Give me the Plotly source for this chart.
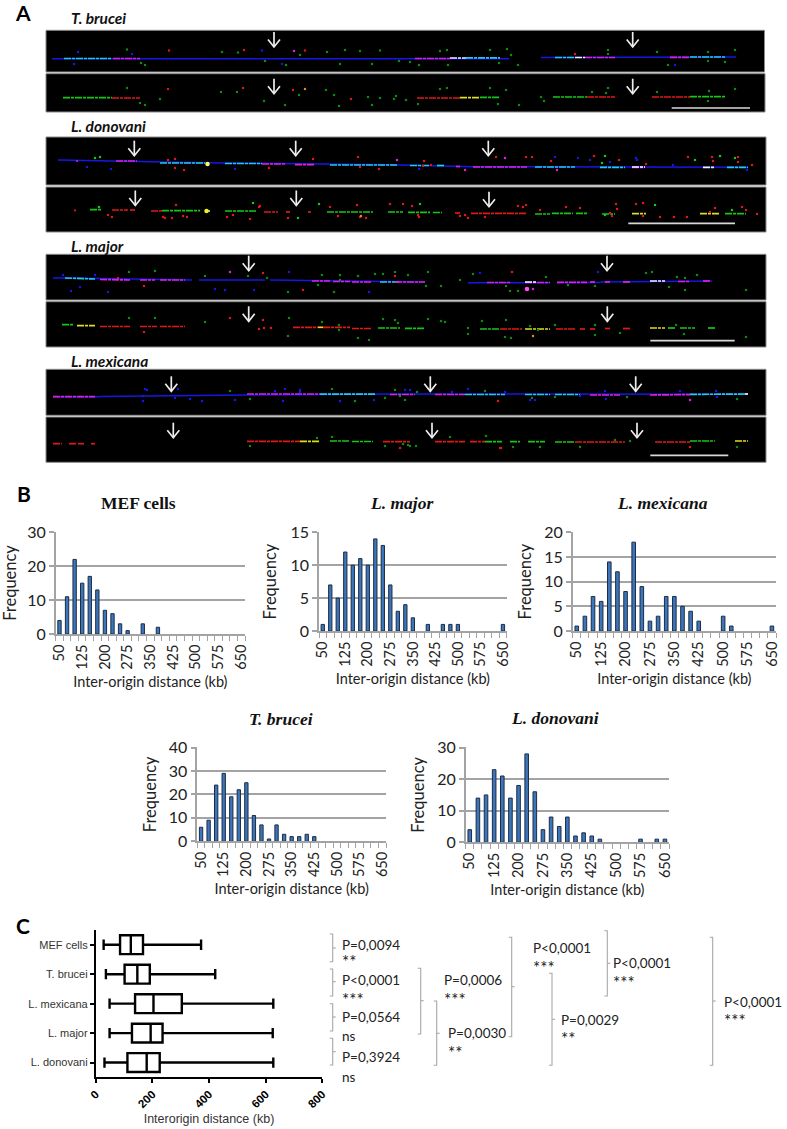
import plotly.graph_objects as go

W, H = 787, 1129

# ---------- Panel B data ----------
BINS = list(range(50, 651, 25))
BIN_TICKS = BINS[::3]

def fill(d):
    return [d.get(b, 0) for b in BINS]

MEF = fill({50:4,75:11,100:22,125:15,150:17,175:13,200:7,225:6,250:3,275:1,325:3,375:2})
MAJOR = fill({50:1,75:7,100:5,125:12,150:10,175:11,200:10,225:14,250:13,275:7,300:3,325:4,350:2,400:1,450:1,475:1,500:1,650:1})
MEXICANA = fill({50:1,75:3,100:7,125:6,150:14,175:12,200:8,225:18,250:9,275:2,300:3,325:7,350:7,375:5,400:4,425:2,500:3,525:1,650:1})
BRUCEI = fill({50:6,75:9,100:24,125:29,150:19,175:22,200:25,225:11,250:7,275:1,300:7,325:3,350:2,375:2,400:3,425:2})
DONOVANI = fill({50:4,75:14,100:15,125:23,150:21,175:14,200:18,225:28,250:16,275:4,300:8,325:5,350:8,375:2,400:3,425:2,450:1,575:1,625:1,650:1})

HISTS = [
    ("MEF cells", False, MEF, 30, 10, (55.7, 245), (532, 634), 138, 503, 7),
    ("L. major", True, MAJOR, 15, 5, (319, 506.7), (532, 631), 401, 503, 10),
    ("L. mexicana", True, MEXICANA, 20, 5, (572.7, 776), (532, 631), 662, 503, 8),
    ("T. brucei", True, BRUCEI, 40, 10, (197.3, 386), (747.3, 841.3), 281, 719, 8),
    ("L. donovani", True, DONOVANI, 30, 10, (465.7, 669), (747.3, 842.3), 555, 718, 8),
]

# ---------- Panel C data ----------
BOX_NAMES = ["MEF cells", "T. brucei", "L. mexicana", "L. major", "L. donovani"]
BOX_LOW = [28, 36, 49, 49, 31]
BOX_Q1 = [86, 102, 139, 128, 112]
BOX_MED = [124, 147, 204, 194, 180]
BOX_Q3 = [167, 191, 304, 236, 226]
BOX_HIGH = [372, 422, 627, 625, 627]
BOX_TICKS = [0, 200, 400, 600, 800]

# P-value text: (x, y, p, stars y, stars)
P_TEXT = [
    (340, 945, "P=0,0094", 959.5, "**"), (340, 980, "P<0,0001", 997, "***"),
    (340, 1017, "P=0,0564", 1036, "ns"), (340, 1057, "P=0,3924", 1077, "ns"),
    (441.5, 980, "P=0,0006", 997, "***"), (446, 1033, "P=0,0030", 1050, "**"),
    (531, 948, "P<0,0001", 965, "***"), (611, 963, "P<0,0001", 980, "***"),
    (559, 1020, "P=0,0029", 1036, "**"), (722, 1002, "P<0,0001", 1018, "***"),
]
# Brackets: spine x, top, bottom, middle
BRACKETS = [
    (332.7, 934, 961.7, 948), (332.7, 969, 996, 981.7), (332.7, 1003.7, 1031, 1017),
    (332.7, 1038.3, 1065, 1051.7), (420.7, 968.3, 1034, 1000.7), (436.7, 1001, 1065.3, 1033.3),
    (511.7, 937.3, 1036.7, 986.7), (552, 973.3, 1065.3, 1019.3), (607.3, 930.7, 996, 963.3),
    (712.7, 937.3, 1065.3, 1001),
]

# ---------- Panel A data ----------
STRIPS = [(46, 30.3, 764.5, 72), (46, 73.7, 765, 112), (46, 137, 766, 185), (46, 187, 766, 232),
          (46, 254.3, 766, 300), (46, 301.7, 766, 347), (46, 369.3, 766, 415.3), (46, 417, 766, 462.3)]
STRIP_TITLES = [("T. brucei", 18), ("L. donovani", 126), ("L. major", 246), ("L. mexicana", 361)]
SCALE_BARS = [(671.7, 750, 108), (628.3, 735, 223.3), (650.3, 734.7, 340.7), (650.3, 728.3, 455.3)]
ARROW_TIPS = [(274, 47), (632.7, 47), (274, 93.7), (632.7, 93.7),
              (134.3, 155.7), (295.7, 155.7), (488.3, 155.7), (135.3, 205.5), (296.3, 205.5), (489, 206.7),
              (248.7, 270.7), (607, 270.7), (248.7, 321.3), (607.3, 321.3),
              (171.3, 391.3), (430.3, 391.3), (635.7, 391.3), (173.3, 437.7), (432, 437.7), (637, 437.7)]

BLUE, CYAN, MAG, RED, GRN, YEL, WHT = "#1616e8", "#20cde0", "#e020e0", "#e01818", "#16c816", "#dede20", "#f2f2ff"
DGRN, ORG = "#0c8c0c", "#e08a18"

SEGMENTS = {
    BLUE: [(52,58.7,509,58.7),(541,57.5,736,57),(58,160,205,162.7),(205,162.7,390,164.7),(390,164.7,473,166.7),(473,166.7,748,167.3),
           (53,278,70,278),(70,278,192,280),(199,280,265,280),(270,280,425,282),(468,282.7,550,282.7),(557,282.5,600,282.5),(600,282,712,281),
           (53,396.7,100,396.7),(100,396.5,245,395),(245,395,390,394),(390,394,748,394.3)],
    CYAN: [(64,58.5,112,58.5),(466,57.8,500,57.8),(555,57.5,575,57.5),(690,57,725,57),
           (160,163,205,163),(225,163.5,262,163.5),(330,165,398,165),(410,165.5,430,165.5),(437,165.5,445,165.5),(535,167,575,167),(600,167.3,625,167.3),(727,167.3,748,167.3),
           (65,278,95,279),(380,282,400,282),
           (320,394.2,375,394.2),(465,394.5,505,394.5),(525,394.5,550,394.5),(555,394.5,580,394.5),(690,394.4,745,394)],
    MAG: [(113,58.5,140,58.5),(415,58.5,450,58.5),(585,57.5,615,57.5),(670,57.3,690,57.3),
          (116,161,137,161),(76,161,78,161),(262,164,285,164),(295,164.6,315,164.6),(456,166.5,460,166.5),(473,167,527,167),(632,167.3,645,167.3),
          (100,279.5,130,280),(140,280,155,280),(160,280,185,280),(312,281,330,281),(333,281.5,350,281.5),(352,282,372,282),(395,282,425,282),
          (487,282.5,510,282.5),(525,282.5,550,282.5),(557,282.3,587,282.3),(590,282,595,282),(605,282,610,282),(623,282,630,282),(703,281,710,281),(678,281.5,690,281.5),
          (53,396.7,95,396.7),(247,394,320,394),(390,394.5,415,394.5),(435,394.5,465,394.5),(590,395,620,395),(650,395,690,394.6)],
    RED: [(112,98,140,98),(417,98,460,98),(587,97,615,97),(652,97,690,97),
          (74,210.3,76,210.3),(112,210,128,210),(130,210,135,210),(151,211,162,211),(264,212,278,212),(286,212,290,212),(308,212,311,212),(455,213,460,213),(471,213.3,527,213.3),
          (100,326.5,130,326.5),(140,326.5,157,326.5),(160,326.5,185,326.5),(293,327.3,318,327.3),(323,327.3,350,327.3),(352,328.5,372,328.5),(500,329,522,329),(556,329,575,329),(580,329,585,329),(590,329,595,329),(605,328.5,610,328.5),(623,328.5,630,328.5),
          (53,443.7,62,443.7),(69,443.7,76,443.7),(78,443.7,84,443.7),(91,443.7,95,443.7),(247,441.3,300,441.3),(383,441.7,410,441.7),(435,441.7,465,441.7),(470,441.7,485,441.7),(575,442,625,442),(655,442,690,442)],
    GRN: [(63,97.7,112,97.7),(480,97.3,500,97.3),(553,97,587,97),(690,96.7,725,96.7),
          (90,209.7,102,209.7),(162,210.7,200,210.7),(225,211,256,211),(327,212,373,212),(388,212,403,212),(408,212.3,430,212.3),(433,212.5,442,212.5),(535,214,550,214),(552,213.3,573,213.3),(576,213.3,587,213.3),(602,214,615,214),(725,213.7,746,213.7),
          (62,324.7,73,324.7),(378,328,400,328),(405,328.3,425,328.3),(480,329,500,329),(668,328,675,328),(680,328,695,328),(708,328,715,328),
          (330,441,350,441),(352,441.5,373,441.5),(485,441.7,502,441.7),(510,441.7,520,441.7),(528,441.7,545,441.7),(555,442,575,442),(690,441,715,441)],
    YEL: [(460,97.7,480,97.7),(205,211,210,211),(77,325.7,95,325.7),(318,327.3,323,327.3),(525,329,550,329),(300,441.3,320,441.3),(632,213.7,646,213.7),(700,213.7,720,213.7),(650,328,665,328),(735,441,748,441)],
    WHT: [(450,58,466,58),(575,57.5,585,57.5),(632,167,645,167),(703,167.3,715,167.3),(650,281,665,281),(525,282,537,282),(745,394,748,394)],
}

SPECKS = {
    DGRN: [(127,49.5),(141,63),(145,65),(222,52),(238,52.5),(265,61),(286,65),(300,55),(327,52),(345,50),(360,51),(380,50.5),(340,64),(372,64),(399,61),
           (440,51),(447,50),(490,50),(507,49),(511,55),(518,65),(410,62),(419,65),(448,65),(499,63),(608,54),(608,50),(657,52),(708,52),(708,61),(725,62),(735,50),(668,65),
           (127,88),(160,99),(140,103),(145,105),(221,92),(237,92),(264,101),(285,105),(299,95),(326,90),(334,95),(339,106),(368,97),(372,105),(380,98),(396,96),(394,99),(406,100),(418,104),
           (440,89),(447,88),(490,88),(506,90),(498,104),(519,105),(541,97),(544,101),(592,92),(608,88),(606,93),(657,92),(709,91),(708,101),(735,89),
           (129,272),(155,271),(205,276),(248,276),(267,278),(288,292),(322,275),(340,275),(340,280),(318,285),(334,292),(358,276),(375,274),(383,274),(395,272),(408,275),(428,272),(426,286),(441,286),(460,280),(473,274),(546,277),(595,286),(506,286),(568,285),(510,291),(518,291),(646,273),(652,272),(677,277),(685,278),(685,290),(669,287),(697,275),(746,290),
           (129,318),(155,318),(205,322),(288,336),(289,318),(322,322),(339,325),(339,330),(358,338),(369,340),(383,319),(395,320),(398,323),(428,319),(441,321),(445,322),(468,328),(468,334),(482,321),(506,320),(505,337),(511,338),(530,326),(538,330),(555,325),(595,325),(595,335),(676,325),(684,334),(746,337),(620,333),
           (230,391),(250,399),(332,389),(355,401),(385,398),(395,390),(400,396),(405,400),(417,392),(485,391),(555,397),(532,398),(627,397),(737,399),
           (250,446),(317,438),(332,437),(385,446),(403,444),(513,447),(410,446),(416,446),(408,445),(450,437),(486,436),(540,447),(630,441),(615,440),(580,447),(737,447)],
    GRN: [(100,157),(95,158),(605,156),(602,163),(695,160),(720,156),(735,158),(253,203),(319,204),(298,218),(420,204),(605,215),(655,205),(732,210),(99,207)],
    BLUE: [(132,54),(74,64),(78,52),(262,50.5),(282,64),(675,65),(87,167),(111,169),(235,169),(419,169),(555,157),(578,158),(590,160),(610,162),(637,160),(636,158),(673,165),(747,170),
           (63,275),(95,275),(80,287),(71,291),(108,292),(254,290),(215,289),(225,290),(289,272),(369,292),(480,273),(598,272),
           (145,389),(147,390),(143,396),(178,389),(175,398),(143,401),(190,399),(202,401),(235,400),(283,401),(300,392),(300,390),(275,391),(285,389),(340,401),(374,400),(405,390),(410,390),(452,392),(468,389),(505,392),(530,400),(535,400),(580,396),(606,399),(605,391),(680,391),(717,397),(716,391)],
    RED: [(169,50.5),(244,50),(305,50.5),(575,54),(168,89),(243,88),(293,90),(351,99),
          (175,159),(168,160),(184,170),(175,168),(269,168),(313,159),(358,157),(360,167),(379,169),(424,161),(423,166),(431,165),(496,157),(526,157),(532,157),(551,161),(594,156),(619,160),(646,164),(688,157),(712,157),(713,161),(738,157),(738,162),(752,165),
          (260,206),(259,207),(330,207),(357,205),(176,205),(108,215),(112,217),(172,218),(165,218),(183,216),(187,217),(163,217),(227,217),(233,215),(250,219),(288,218),(338,216),(360,217),(366,218),(390,204),(403,204),(412,206),(419,217),(418,215),(460,216),(465,215),(468,218),(485,217),(518,206),(523,207),(526,205),(540,210),(566,207),(580,208),(616,204),(617,209),(636,204),(643,203),(610,213),(612,216),(643,216),(660,217),(674,217),(687,217),(710,212),(715,208),(742,207),(746,210),(757,214),
          (118,278),(144,286),(263,273),(303,290),(395,276),(512,272),(144,332),(230,318),(263,320),(264,328),(259,329),(271,328),(500,448),(498,401),(400,448),(501,448),(690,447)],
    MAG: [(294,51),(397,160),(505,158),(465,170),(557,170),(230,272),(533,289),(690,400)],
    ORG: [(305,89),(361,216),(533,336)],
}
BLOBS_X = [207.5, 206.5, 527]
BLOBS_Y = [164, 211, 289]
BLOBS_C = ["#fbfb70", "#eef020", "#ff50ff"]

# ---------- figure ----------
fig = go.Figure()
layout = dict(
    width=W, height=H, margin=dict(l=0, r=0, t=0, b=0, pad=0, autoexpand=False), autosize=False,
    paper_bgcolor="white", plot_bgcolor="rgba(0,0,0,0)", showlegend=False,
    bargap=0.56, hovermode=False,
    xaxis=dict(domain=[0, 1], range=[0, W], visible=False, fixedrange=True),
    yaxis=dict(domain=[0, 1], range=[H, 0], visible=False, fixedrange=True),
)
shapes, ann = [], []

def note(x, y, text, size, family="Lato", anchor="left", color="#1a1a1a", **kw):
    ann.append(dict(x=x, y=y, xref="x", yref="y", text=text, showarrow=False, xanchor=anchor, yanchor="middle",
                    font=dict(family=family, size=size, color=color), **kw))

# panel A
for x0, y0, x1, y1 in STRIPS:
    shapes.append(dict(type="rect", xref="x", yref="y", x0=x0, x1=x1, y0=y0, y1=y1, fillcolor="black",
                       line=dict(color="#8a8a8a", width=1), layer="below"))
for t, y in STRIP_TITLES:
    note(69, y, "<b><i>%s</i></b>" % t, 15.5, color="#111111")
for col, segs in SEGMENTS.items():
    xs, ys = [], []
    for a, b, c, d in segs:
        xs += [a, c, None]
        ys += [b, d, None]
    fig.add_trace(go.Scatter(x=xs, y=ys, mode="lines",
                             line=dict(color=col, width=1.5 if col == BLUE else 1.7,
                                       dash="solid" if col == BLUE else "7px,1px,3px,1px"), hoverinfo="skip"))
for col, pts in SPECKS.items():
    fig.add_trace(go.Scatter(x=[p[0] for p in pts], y=[p[1] for p in pts], mode="markers",
                             marker=dict(color=col, size=2.2, symbol="square", line=dict(width=0)), hoverinfo="skip"))
fig.add_trace(go.Scatter(x=BLOBS_X, y=BLOBS_Y, mode="markers", marker=dict(color=BLOBS_C, size=4.5, line=dict(width=0)), hoverinfo="skip"))
xs, ys = [], []
for a, b, y in SCALE_BARS:
    xs += [a, b, None]
    ys += [y, y, None]
fig.add_trace(go.Scatter(x=xs, y=ys, mode="lines", line=dict(color="#d8d8d8", width=1.7), hoverinfo="skip"))
xs, ys = [], []
for tx, ty in ARROW_TIPS:
    xs += [tx, tx, None, tx - 6, tx, tx + 6, None]
    ys += [ty - 15, ty, None, ty - 7.5, ty, ty - 7.5, None]
fig.add_trace(go.Scatter(x=xs, y=ys, mode="lines", line=dict(color="#eeeeee", width=1.7), hoverinfo="skip"))

# panel letters
note(23, 12, "<b>A</b>", 21, anchor="center", color="black")
note(24, 493, "<b>B</b>", 21, anchor="center", color="black")
note(23, 925, "<b>C</b>", 21, anchor="center", color="black")

# panel B
GRAY = "#a3a3a3"
for i, (name, ital, vals, ymax, dy, xd, yd, tx, ty, ystand) in enumerate(HISTS):
    n = i + 2
    fig.add_trace(go.Bar(x=BINS, y=[v if v else None for v in vals], xaxis="x%d" % n, yaxis="y%d" % n,
                         marker=dict(color="#3b75ba", line=dict(color="#1d2c44", width=1)), hoverinfo="skip"))
    layout["xaxis%d" % n] = dict(
        domain=[xd[0] / W, xd[1] / W], anchor="y%d" % n,
        range=[37.5, 662.5], tickmode="array", tickvals=BIN_TICKS, automargin=False,
        ticks="outside", ticklen=0.01, tickcolor=GRAY, tickangle=-90, showline=True, linecolor=GRAY, linewidth=1.5,
        minor=dict(tick0=37.5, dtick=25, ticks="outside", ticklen=5, tickcolor=GRAY, tickwidth=1.2, showgrid=False),
        showgrid=False, zeroline=False, ticklabelstandoff=3, tickfont=dict(family="Lato", size=14.5, color="#222222"),
        title=dict(text="Inter-origin distance (kb)", font=dict(family="Lato", size=14.5, color="#222222"), standoff=8), fixedrange=True)
    layout["yaxis%d" % n] = dict(
        domain=[1 - yd[1] / H, 1 - yd[0] / H], anchor="x%d" % n, range=[0, ymax * 1.003], tick0=0, dtick=dy, automargin=False,
        ticks="outside", ticklen=5, tickcolor=GRAY, tickwidth=1.5, showline=True, linecolor=GRAY, linewidth=1.5,
        showgrid=True, gridcolor=GRAY, gridwidth=1.5, zeroline=False, tickfont=dict(family="Lato", size=16, color="#222222"),
        title=dict(text="Frequency", font=dict(family="Lato", size=16.5, color="#222222"), standoff=ystand), fixedrange=True)
    note(tx, ty, ("<b><i>%s</i></b>" if ital else "<b>%s</b>") % name, 17.5, family="Liberation Serif", anchor="center", color="#111111")

# panel C
fig.add_trace(go.Box(y=BOX_NAMES, q1=BOX_Q1, median=BOX_MED, q3=BOX_Q3, lowerfence=BOX_LOW, upperfence=BOX_HIGH,
                     orientation="h", xaxis="x7", yaxis="y7", fillcolor="white", line=dict(color="black", width=2.4),
                     whiskerwidth=0.55, width=0.64, boxpoints=False, hoverinfo="skip"))
layout["xaxis7"] = dict(
    domain=[95.7 / W, 322.3 / W], anchor="y7", range=[0, 800], tickvals=BOX_TICKS, tickangle=-45, automargin=False,
    ticks="outside", ticklen=4, tickwidth=1.5, tickcolor="black", showline=True, linecolor="black", linewidth=1.7,
    showgrid=False, zeroline=False, tickfont=dict(family="Liberation Sans", size=11.5, color="black", weight=700),
    title=dict(text="Interorigin distance (kb)", font=dict(family="Liberation Sans", size=12.5, color="#333333"), standoff=5), fixedrange=True)
layout["yaxis7"] = dict(
    domain=[1 - 1077.3 / H, 1 - 930 / H], anchor="x7", type="category", categoryorder="array", categoryarray=BOX_NAMES,
    range=[4.5, -0.5], tickvals=BOX_NAMES, ticks="outside", ticklen=4, tickwidth=1.5, tickcolor="black", automargin=False,
    showline=True, linecolor="black", linewidth=1.7, showgrid=False, zeroline=False,
    tickfont=dict(family="Liberation Sans", size=11, color="#333333"), fixedrange=True)

xs, ys = [], []
for sx, top, bot, mid in BRACKETS:
    xs += [sx - 3, sx, sx, sx - 3, None, sx, sx + 3, None]
    ys += [top, top, bot, bot, None, mid, mid, None]
fig.add_trace(go.Scatter(x=xs, y=ys, mode="lines", line=dict(color="#a8a8a8", width=1.1), hoverinfo="skip"))
for x, y, p, y2, s in P_TEXT:
    note(x, y, p, 13.5, color="#222222")
    if s == "ns":
        note(x, y2, s, 13.5, color="#222222")
    else:
        note(x, y2 + 2, s, 17, color="#222222")

layout["shapes"] = shapes
layout["annotations"] = ann
fig.update_layout(**layout)
fig.write_html("out.html", config={"displayModeBar": False},
               post_script="document.body.style.margin='0';document.body.style.overflow='hidden';")
